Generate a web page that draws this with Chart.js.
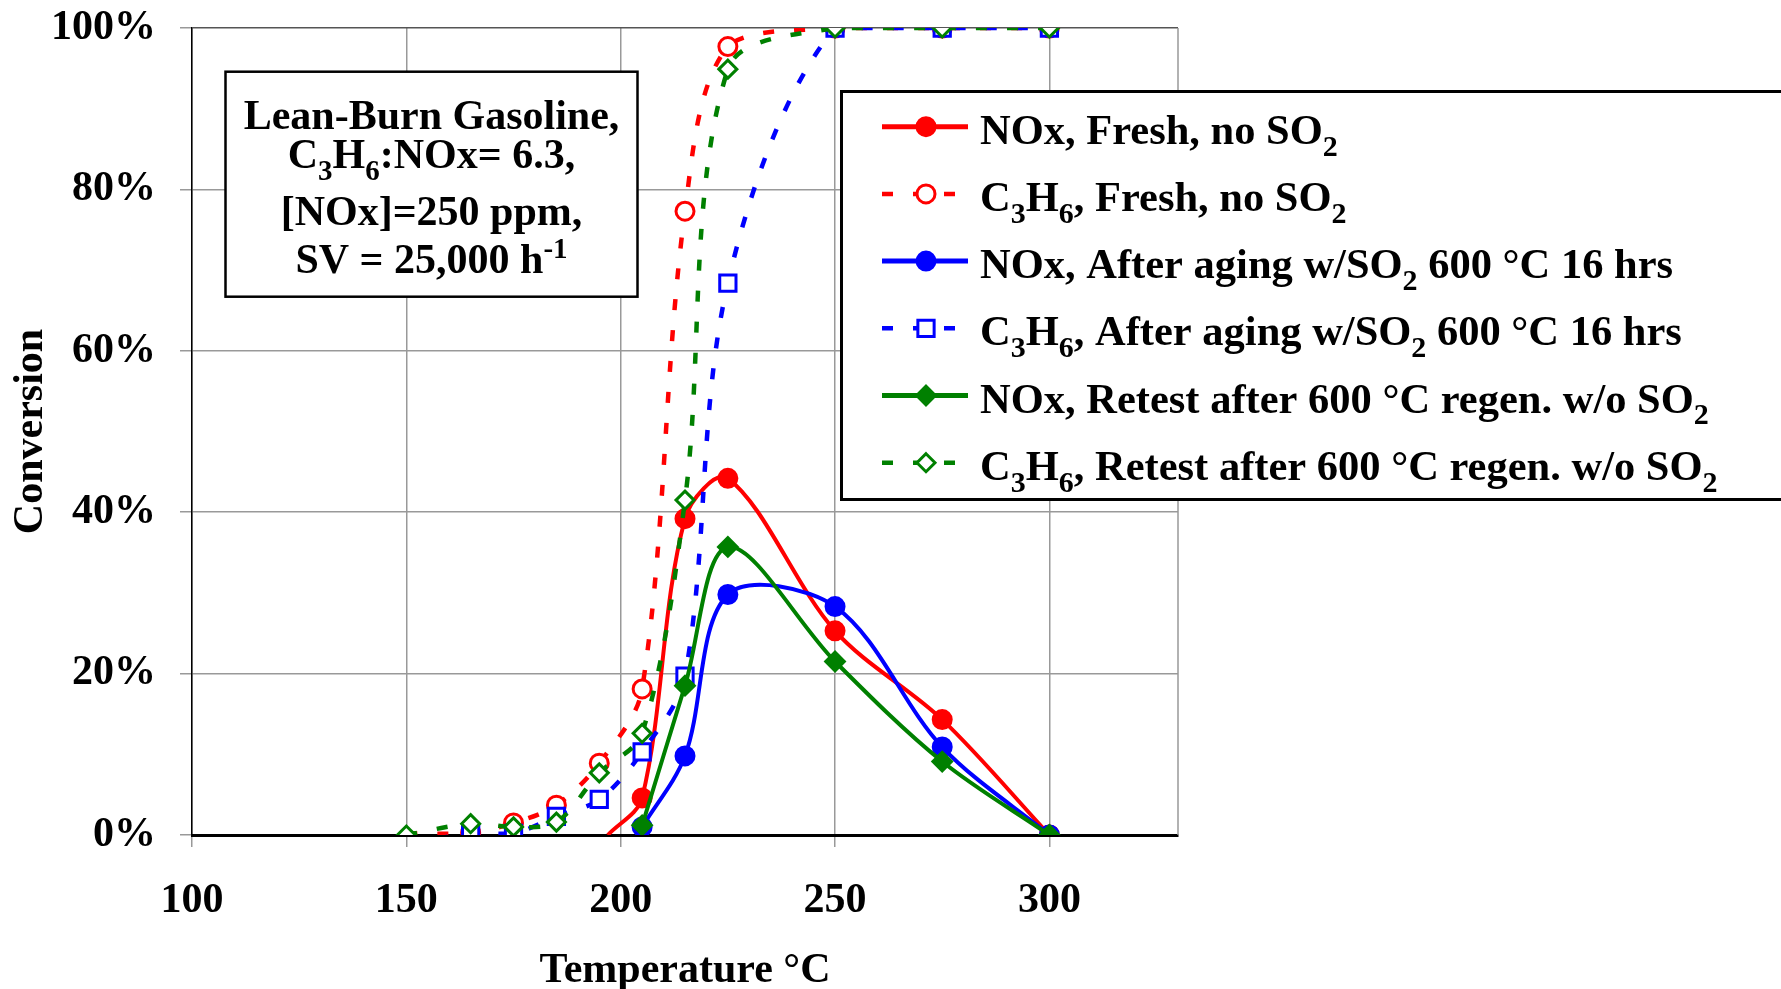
<!DOCTYPE html>
<html>
<head>
<meta charset="utf-8">
<script src="https://cdn.jsdelivr.net/npm/chart.js@4.4.1/dist/chart.umd.min.js"></script>
<style>
  html, body { margin: 0; padding: 0; background: #fff; }
  #wrap { width: 1781px; height: 989px; }
</style>
</head>
<body>
<div id="wrap"><canvas id="chart" width="1781" height="989"></canvas></div>
<script>
// Temperatures (°C) and conversions (%)
const tempsC3H6 = [150, 165, 175, 185, 195, 205, 215, 225, 250, 275, 300];
const c3h6Fresh = [0.2, 0.3, 1.5, 3.7, 8.9, 18.1, 77.3, 97.7, 100, 100, 100];
const c3h6Aged  = [-1.2, 0.2, 0.2, 2.3, 4.4, 10.3, 19.7, 68.4, 100, 100, 100];
const c3h6Regen = [0, 1.4, 1.0, 1.6, 7.7, 12.6, 41.5, 94.9, 100, 100, 100];

const tempsNOx = [205, 215, 225, 250, 275, 300];
const noxFresh = [4.6, 39.2, 44.2, 25.3, 14.3, 0];
const noxAged  = [1.0, 9.8, 29.8, 28.3, 10.9, 0];
const noxRegen = [1.2, 18.5, 35.7, 21.5, 9.1, 0];

// fresh NOx curve leaves the axis just below 200 °C (no marker there)
const noxFreshOnsetTemp = 197;
const noxFreshOnsetValue = 0;

// _{..} = subscript, ^{..} = superscript
const seriesLabels = [
    'NOx, Fresh, no SO_{2}',
    'C_{3}H_{6}, Fresh, no SO_{2}',
    'NOx, After aging w/SO_{2} 600 °C 16 hrs',
    'C_{3}H_{6}, After aging w/SO_{2} 600 °C 16 hrs',
    'NOx, Retest after 600 °C regen. w/o SO_{2}',
    'C_{3}H_{6}, Retest after 600 °C regen. w/o SO_{2}'
];
const noteLines = [
    'Lean-Burn Gasoline,',
    'C_{3}H_{6}:NOx= 6.3,',
    '[NOx]=250 ppm,',
    'SV = 25,000 h^{-1}'
];

const FONT = "'Liberation Serif', 'Times New Roman', serif";
const RED = '#ff0000', BLUE = '#0000ff', GREEN = '#008000';

const toPoints = (xs, ys) => xs.map((x, i) => ({ x: x, y: ys[i] }));

// marker styles per series
const styles = [
    { color: RED,   dashed: false, shape: 'circle',  filled: true,  r: 9.5 },
    { color: RED,   dashed: true,  shape: 'circle',  filled: false, r: 9 },
    { color: BLUE,  dashed: false, shape: 'circle',  filled: true,  r: 9.5 },
    { color: BLUE,  dashed: true,  shape: 'rect',    filled: false, r: 11.5 },
    { color: GREEN, dashed: false, shape: 'rectRot', filled: true,  r: 10 },
    { color: GREEN, dashed: true,  shape: 'rectRot', filled: false, r: 9 }
];

const seriesData = [
    [{ x: noxFreshOnsetTemp, y: noxFreshOnsetValue }].concat(toPoints(tempsNOx, noxFresh)),
    toPoints(tempsC3H6, c3h6Fresh),
    toPoints(tempsNOx, noxAged),
    toPoints(tempsC3H6, c3h6Aged),
    toPoints(tempsNOx, noxRegen),
    toPoints(tempsC3H6, c3h6Regen)
];
// points that carry the curve but show no marker in the figure
const noMarker = [[noxFreshOnsetTemp], [150], [], [150], [], []];

const datasets = seriesData.map((pts, i) => {
    const s = styles[i];
    return {
        label: seriesLabels[i],
        data: pts,
        order: 5 - i, // later series on top, like the original
        borderColor: s.color,
        borderWidth: s.dashed ? 4.5 : 4,
        borderDash: s.dashed ? [11, 20] : [],
        tension: 0.33,
        fill: false,
        pointStyle: s.shape,
        pointRadius: (ctx) => noMarker[i].includes(ctx.raw && ctx.raw.x) ? 0 : s.r,
        pointBorderWidth: s.filled ? 2 : 3,
        pointBorderColor: s.color,
        pointBackgroundColor: s.filled ? s.color : '#ffffff'
    };
});

// --- small helpers for text with sub/superscripts ---
function parseRich(str) {
    const parts = [];
    const re = /([_^])\{([^}]*)\}/g;
    let last = 0, m;
    while ((m = re.exec(str))) {
        if (m.index > last) parts.push({ t: str.slice(last, m.index), k: '' });
        parts.push({ t: m[2], k: m[1] === '_' ? 'sub' : 'sup' });
        last = re.lastIndex;
    }
    if (last < str.length) parts.push({ t: str.slice(last), k: '' });
    return parts;
}

function drawRich(ctx, str, x, y, align, size) {
    const parts = parseRich(str);
    const small = Math.round(size * 0.7);
    const fontFor = (k) => `bold ${k ? small : size}px ${FONT}`;
    let total = 0;
    parts.forEach((p) => {
        ctx.font = fontFor(p.k);
        p.w = ctx.measureText(p.t).width;
        total += p.w;
    });
    let cx = align === 'center' ? x - total / 2 : x;
    ctx.textAlign = 'left';
    ctx.textBaseline = 'alphabetic';
    ctx.fillStyle = '#000';
    parts.forEach((p) => {
        ctx.font = fontFor(p.k);
        const dy = p.k === 'sub' ? size * 0.28 : (p.k === 'sup' ? -size * 0.36 : 0);
        ctx.fillText(p.t, cx, y + dy);
        cx += p.w;
    });
}

function drawMarker(ctx, s, x, y) {
    ctx.save();
    ctx.setLineDash([]);
    ctx.lineWidth = s.filled ? 2 : 3;
    ctx.strokeStyle = s.color;
    ctx.fillStyle = s.filled ? s.color : '#fff';
    ctx.beginPath();
    if (s.shape === 'circle') {
        ctx.arc(x, y, s.r, 0, Math.PI * 2);
    } else if (s.shape === 'rect') {
        const h = s.r * Math.SQRT1_2;
        ctx.rect(x - h, y - h, 2 * h, 2 * h);
    } else {
        ctx.moveTo(x, y - s.r);
        ctx.lineTo(x + s.r, y);
        ctx.lineTo(x, y + s.r);
        ctx.lineTo(x - s.r, y);
        ctx.closePath();
    }
    ctx.fill();
    ctx.stroke();
    ctx.restore();
}

// right edge of the plot frame
const frame = {
    id: 'frame',
    beforeDatasetsDraw(chart) {
        const { ctx, chartArea } = chart;
        ctx.save();
        ctx.strokeStyle = '#999';
        ctx.lineWidth = 1.5;
        ctx.beginPath();
        ctx.moveTo(chartArea.right, chartArea.top);
        ctx.lineTo(chartArea.right, chartArea.bottom);
        ctx.stroke();
        ctx.restore();
    }
};

// condition box and legend box
const boxes = {
    id: 'boxes',
    afterDraw(chart) {
        const ctx = chart.ctx;
        ctx.save();

        // conditions note
        ctx.fillStyle = '#fff';
        ctx.fillRect(225.5, 71.7, 412, 225);
        ctx.strokeStyle = '#000';
        ctx.lineWidth = 2.5;
        ctx.strokeRect(225.5, 71.7, 412, 225);
        const noteBase = [129, 168, 224.5, 273.3];
        noteLines.forEach((line, i) => drawRich(ctx, line, 431.5, noteBase[i], 'center', 42));

        // legend
        ctx.fillStyle = '#fff';
        ctx.fillRect(841.5, 91.5, 960, 408);
        ctx.strokeStyle = '#000';
        ctx.lineWidth = 3;
        ctx.strokeRect(841.5, 91.5, 960, 408);
        chart.data.datasets.forEach((ds, i) => {
            const s = styles[i];
            const y = 126.7 + i * 67.2;
            ctx.save();
            ctx.strokeStyle = s.color;
            ctx.lineWidth = s.dashed ? 4.5 : 5;
            ctx.setLineDash(s.dashed ? [11, 20] : []);
            ctx.beginPath();
            ctx.moveTo(882, y);
            ctx.lineTo(968, y);
            ctx.stroke();
            ctx.restore();
            drawMarker(ctx, s, 926, y);
            drawRich(ctx, ds.label, 980, y + 17, 'left', 42.5);
        });
        ctx.restore();
    }
};

const axisFont = { family: FONT, size: 42, weight: 'bold' };

new Chart(document.getElementById('chart'), {
    type: 'line',
    data: { datasets: datasets },
    options: {
        responsive: false,
        animation: false,
        devicePixelRatio: 1,
        layout: { padding: { left: 0, top: 28, right: 603, bottom: 0 } },
        plugins: {
            legend: { display: false },
            tooltip: { enabled: false }
        },
        scales: {
            x: {
                type: 'linear',
                min: 100,
                max: 330,
                afterFit: (scale) => { scale.height = 154; },
                border: { color: '#000', width: 3 },
                grid: { color: '#999', lineWidth: 1.5, tickLength: 12, tickColor: '#999' },
                ticks: {
                    stepSize: 50,
                    includeBounds: false,
                    maxRotation: 0,
                    padding: 29,
                    color: '#000',
                    font: axisFont
                },
                title: {
                    display: true,
                    text: 'Temperature °C',
                    color: '#000',
                    font: { family: FONT, size: 42, weight: 'bold', lineHeight: 0.7 },
                    padding: { top: 0, bottom: 3 }
                }
            },
            y: {
                min: 0,
                max: 100,
                afterFit: (scale) => {
                    scale.width = 192;
                    scale.paddingTop = 0;
                    scale.paddingBottom = 0;
                },
                border: { color: '#000', width: 1.5 },
                grid: {
                    color: (ctx) => ctx.tick && ctx.tick.value === 100 ? '#555' : '#999',
                    lineWidth: 1.5,
                    tickLength: 12,
                    tickColor: '#999'
                },
                ticks: {
                    stepSize: 20,
                    padding: 24,
                    color: '#000',
                    font: axisFont,
                    callback: (v) => v + '%'
                },
                title: {
                    display: true,
                    text: 'Conversion',
                    color: '#000',
                    font: { family: FONT, size: 42, weight: 'bold', lineHeight: 1 },
                    padding: { top: 10, bottom: 0 }
                }
            }
        }
    },
    plugins: [frame, boxes]
});
</script>
</body>
</html>
